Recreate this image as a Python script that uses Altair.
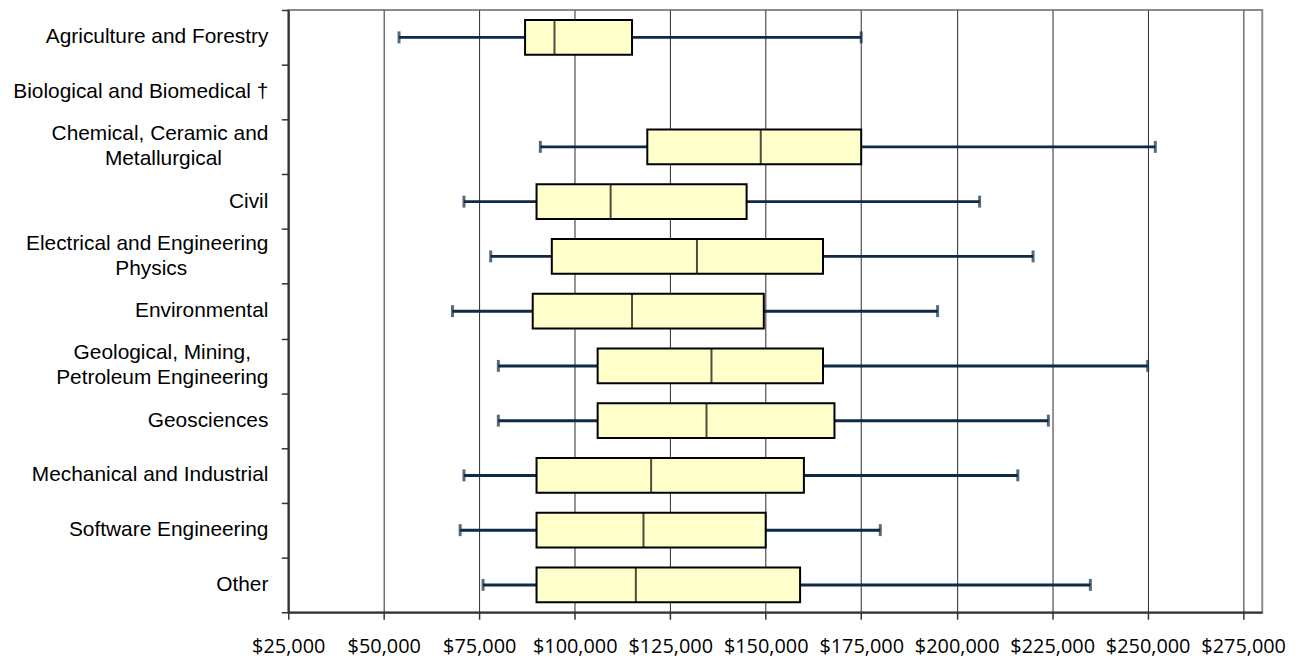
import altair as alt
import pandas as pd

categories = [
    "Agriculture and Forestry",
    "Biological and Biomedical †",
    "Chemical, Ceramic and Metallurgical",
    "Civil",
    "Electrical and Engineering Physics",
    "Environmental",
    "Geological, Mining, Petroleum Engineering",
    "Geosciences",
    "Mechanical and Industrial",
    "Software Engineering",
    "Other",
]
# how the long names are broken over two lines on the axis
label_lines = {
    "Chemical, Ceramic and Metallurgical": ["Chemical, Ceramic and", "Metallurgical"],
    "Electrical and Engineering Physics": ["Electrical and Engineering", "Physics"],
    "Geological, Mining, Petroleum Engineering": ["Geological, Mining,", "Petroleum Engineering"],
}
mins = [54000, None, 91000, 71000, 78000, 68000, 80000, 80000, 71000, 70000, 76000]
q1s = [87000, None, 119000, 90000, 94000, 89000, 106000, 106000, 90000, 90000, 90000]
medians = [94700, None, 148700, 109400, 132000, 115000, 135800, 134500, 120000, 118000, 116000]
q3s = [115000, None, 175000, 145000, 165000, 149500, 165000, 168000, 160000, 150000, 159000]
maxs = [175000, None, 252000, 206000, 220000, 195000, 250000, 224000, 216000, 180000, 235000]
x_ticks = [25000, 50000, 75000, 100000, 125000, 150000, 175000, 200000, 225000, 250000, 275000]

df = pd.DataFrame({
    "cat": categories, "min": mins, "q1": q1s, "median": medians, "q3": q3s, "max": maxs
}).dropna()

# label tables; the shorter line of a wrapped label gets trailing figure spaces
# (closed by an invisible word joiner so they are not trimmed) so the two lines sit centred
FIG = "\u2007"
PUNC = "\u2008"
WJ = "\u2060"
pads = {"Chemical, Ceramic and Metallurgical": ("", FIG * 4 + WJ),
        "Electrical and Engineering Physics": ("", FIG * 7 + WJ),
        "Geological, Mining, Petroleum Engineering": (FIG + PUNC + WJ, "")}
single = pd.DataFrame({"cat": [c for c in categories if c not in label_lines],
                       "text": [c for c in categories if c not in label_lines]})
first = pd.DataFrame({"cat": list(label_lines),
                      "text": [v[0] + pads[k][0] for k, v in label_lines.items()]})
second = pd.DataFrame({"cat": list(label_lines),
                       "text": [v[1] + pads[k][1] for k, v in label_lines.items()]})

NAVY = "#0f2a44"
AXC = "#333333"

x_scale = alt.Scale(domain=[25000, 280000], nice=False, zero=False)
x_axis = alt.Axis(values=x_ticks, format="$,.0f", grid=True, gridColor="#2a2a2a", gridWidth=1,
                  domainColor=AXC, domainWidth=2, tickColor=AXC, tickSize=7, tickWidth=1.5,
                  labelFont="Open Sans", labelFontSize=20, labelColor="black", labelPadding=17,
                  labelFlush=False, labelOverlap=False, title=None)
y_scale = alt.Scale(domain=categories, paddingInner=0, paddingOuter=0)
y_enc = alt.Y("cat:N", sort=categories, scale=y_scale,
              axis=alt.Axis(title=None, labels=False, tickSize=7, tickColor=AXC, tickWidth=1.5,
                            domainColor=AXC, domainWidth=2, grid=False, tickBand="extent"))

base = alt.Chart(df)

whisker = base.mark_rule(color=NAVY, strokeWidth=3).encode(
    x=alt.X("min:Q", scale=x_scale, axis=x_axis), x2="max:Q", y=y_enc)
box = base.mark_bar(size=35, fill="#FFFFCC", stroke="black", strokeWidth=2).encode(
    x=alt.X("q1:Q", scale=x_scale, axis=x_axis), x2="q3:Q", y=y_enc)
med = base.mark_tick(color="black", thickness=2, size=35).encode(
    x=alt.X("median:Q", scale=x_scale, axis=x_axis), y=y_enc)
cap_lo = base.mark_tick(color=NAVY, thickness=3, size=12).encode(
    x=alt.X("min:Q", scale=x_scale, axis=x_axis), y=y_enc)
cap_hi = base.mark_tick(color=NAVY, thickness=3, size=12).encode(
    x=alt.X("max:Q", scale=x_scale, axis=x_axis), y=y_enc)

def label_layer(data, dy):
    return alt.Chart(data).mark_text(
        align="right", baseline="middle", font="Liberation Sans", fontSize=21,
        color="black", dy=dy
    ).encode(y=alt.Y("cat:N", sort=categories, scale=y_scale), x=alt.value(-20),
             text="text:N")

labels = [label_layer(single, 0), label_layer(first, -12.5), label_layer(second, 12.5)]

chart = alt.layer(whisker, box, med, cap_lo, cap_hi, *labels).properties(
    width=980, height=606,
    autosize=alt.AutoSizeParams(type="none"),
    padding={"left": 282, "top": 0, "right": 40, "bottom": 44},
).configure_view(stroke="#8c8c8c", strokeWidth=2)

chart.save("out.html", embed_options={"renderer": "svg", "actions": False})
